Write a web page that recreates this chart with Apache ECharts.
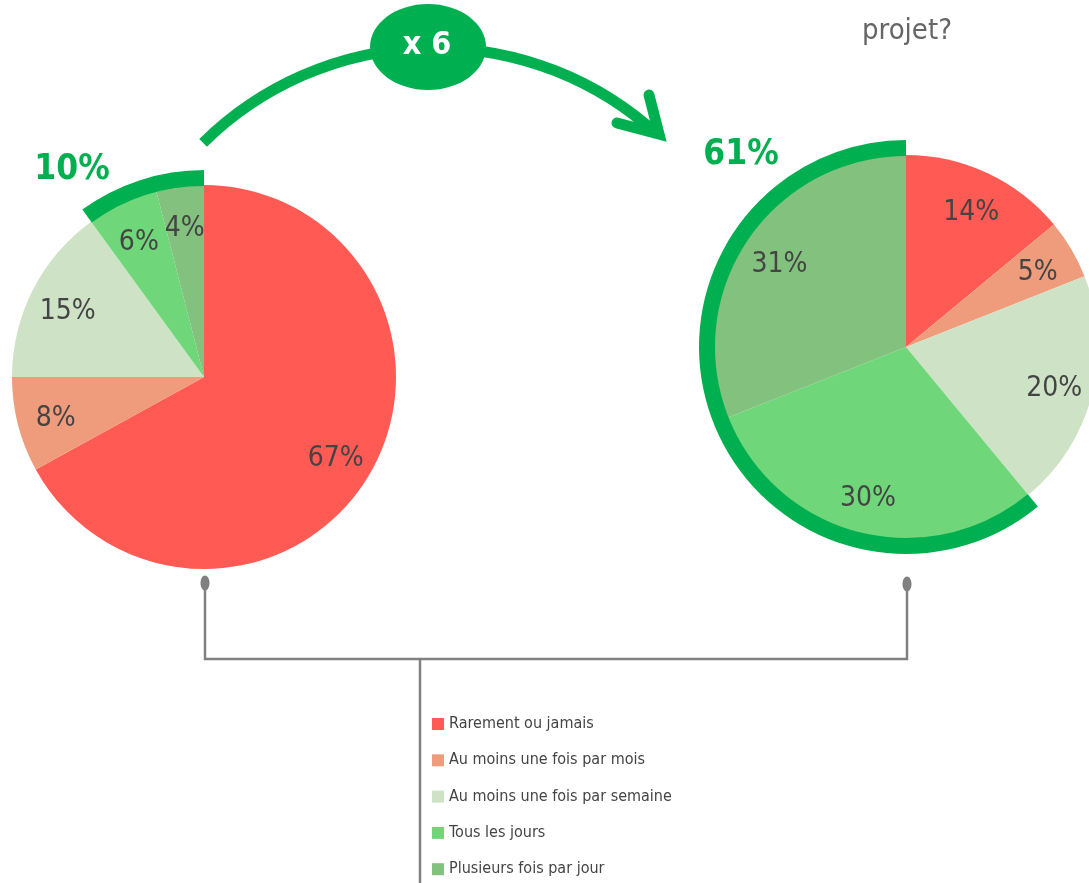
<!DOCTYPE html>
<html><head><meta charset="utf-8">
<script src="https://cdn.jsdelivr.net/npm/echarts/dist/echarts.min.js"></script>
<style>html,body{margin:0;padding:0;background:#fff}#c{width:1089px;height:883px}</style>
</head><body><div id="c"></div>
<script>
const categories = ['Rarement ou jamais','Au moins une fois par mois','Au moins une fois par semaine','Tous les jours','Plusieurs fois par jour'];
const colors = ['#FF5A53','#EF9C7C','#CEE3C5','#6FD67A','#83C17E'];
const beforeValues = [67, 8, 15, 6, 4];
const afterValues = [14, 5, 20, 30, 31];
const greenIdx = [3, 4];
const multiplierLabel = 'x 6';
const topText = 'projet?';

const FONT = '"Liberation Sans Narrow","DejaVu Sans Condensed","Open Sans",sans-serif';
const GREEN = '#00B050';
const R = 192;
const leftCenter = [204, 377];
const rightCenter = [906, 347];

function mainPie(values, center){
  return {type:'pie', center, radius:[0,R], startAngle:90, clockwise:true, silent:true,
    label:{show:false}, labelLine:{show:false}, itemStyle:{borderWidth:0},
    data: categories.map((n,i)=>({name:n, value:values[i], itemStyle:{color:colors[i]}}))};
}
function labelPie(values, center, tag){
  return {type:'pie', center:[center[0], center[1]+4], radius:[108,R], startAngle:90, clockwise:true, silent:true, z:5,
    itemStyle:{color:'rgba(0,0,0,0)', borderWidth:0},
    label:{show:true, position:'inside', formatter:p=>p.value+'%', fontSize:28, color:'#444', fontFamily:FONT},
    labelLine:{show:false},
    data: values.map((v,i)=>({name:tag+i, value:v}))};
}
function greenSum(values){ return greenIdx.reduce((s,i)=>s+values[i],0); }
function ringPie(values, center, tag){
  const g = greenSum(values);
  const other = values.reduce((s,v)=>s+v,0) - g;
  return {type:'pie', center, radius:[R-1, R+15], startAngle:90, clockwise:true, silent:true,
    label:{show:false}, labelLine:{show:false},
    data:[{name:tag+'a', value:other, itemStyle:{color:'rgba(0,0,0,0)'}},
          {name:tag+'b', value:g, itemStyle:{color:GREEN}}]};
}
const deg = Math.PI/180;
const chart = echarts.init(document.getElementById('c'));
chart.setOption({
  animation:false,
  backgroundColor:'#fff',
  legend:{data:categories, orient:'vertical', left:427, top:710, height:400, itemWidth:12, itemHeight:12, itemGap:18.3,
    icon:'rect', selectedMode:false, textStyle:{fontSize:16, lineHeight:18, color:'#444', fontFamily:FONT}},
  series:[
    mainPie(beforeValues, leftCenter), mainPie(afterValues, rightCenter),
    ringPie(beforeValues, leftCenter, 'rl'), ringPie(afterValues, rightCenter, 'rr'),
    labelPie(beforeValues, leftCenter, 'll'), labelPie(afterValues, rightCenter, 'lr')
  ],
  graphic:[
    {type:'arc', shape:{cx:434.6, cy:377.6, r:329.7, startAngle:-134.6*deg, endAngle:-47.5*deg, clockwise:true},
     style:{stroke:GREEN, lineWidth:11, fill:null}},
    {type:'polyline', shape:{points:[[649,95],[659,134],[617,123]]},
     style:{stroke:GREEN, lineWidth:11, lineJoin:'miter', lineCap:'round', fill:null}},
    {type:'ellipse', shape:{cx:428, cy:47, rx:58, ry:43}, style:{fill:GREEN}},
    {type:'text', x:427, y:46, style:{text:multiplierLabel, fill:'#fff', font:'bold 32px '+FONT, align:'center', verticalAlign:'middle'}},
    {type:'text', x:907, y:31, style:{text:topText, fill:'#666', font:'29px '+FONT, align:'center', verticalAlign:'middle'}},
    {type:'text', x:72, y:170, style:{text:greenSum(beforeValues)+'%', fill:GREEN, font:'bold 35px '+FONT, align:'center', verticalAlign:'middle'}},
    {type:'text', x:741, y:155, style:{text:greenSum(afterValues)+'%', fill:GREEN, font:'bold 35px '+FONT, align:'center', verticalAlign:'middle'}},
    {type:'polyline', shape:{points:[[205,583],[205,659],[907,659],[907,583]]}, style:{stroke:'#808080', lineWidth:2.5, fill:null}},
    {type:'line', shape:{x1:420, y1:659, x2:420, y2:883}, style:{stroke:'#808080', lineWidth:2.5}},
    {type:'ellipse', shape:{cx:205, cy:583, rx:4.5, ry:7.5}, style:{fill:'#808080'}},
    {type:'ellipse', shape:{cx:907, cy:584, rx:4.5, ry:7.5}, style:{fill:'#808080'}}
  ]
});
</script></body></html>
